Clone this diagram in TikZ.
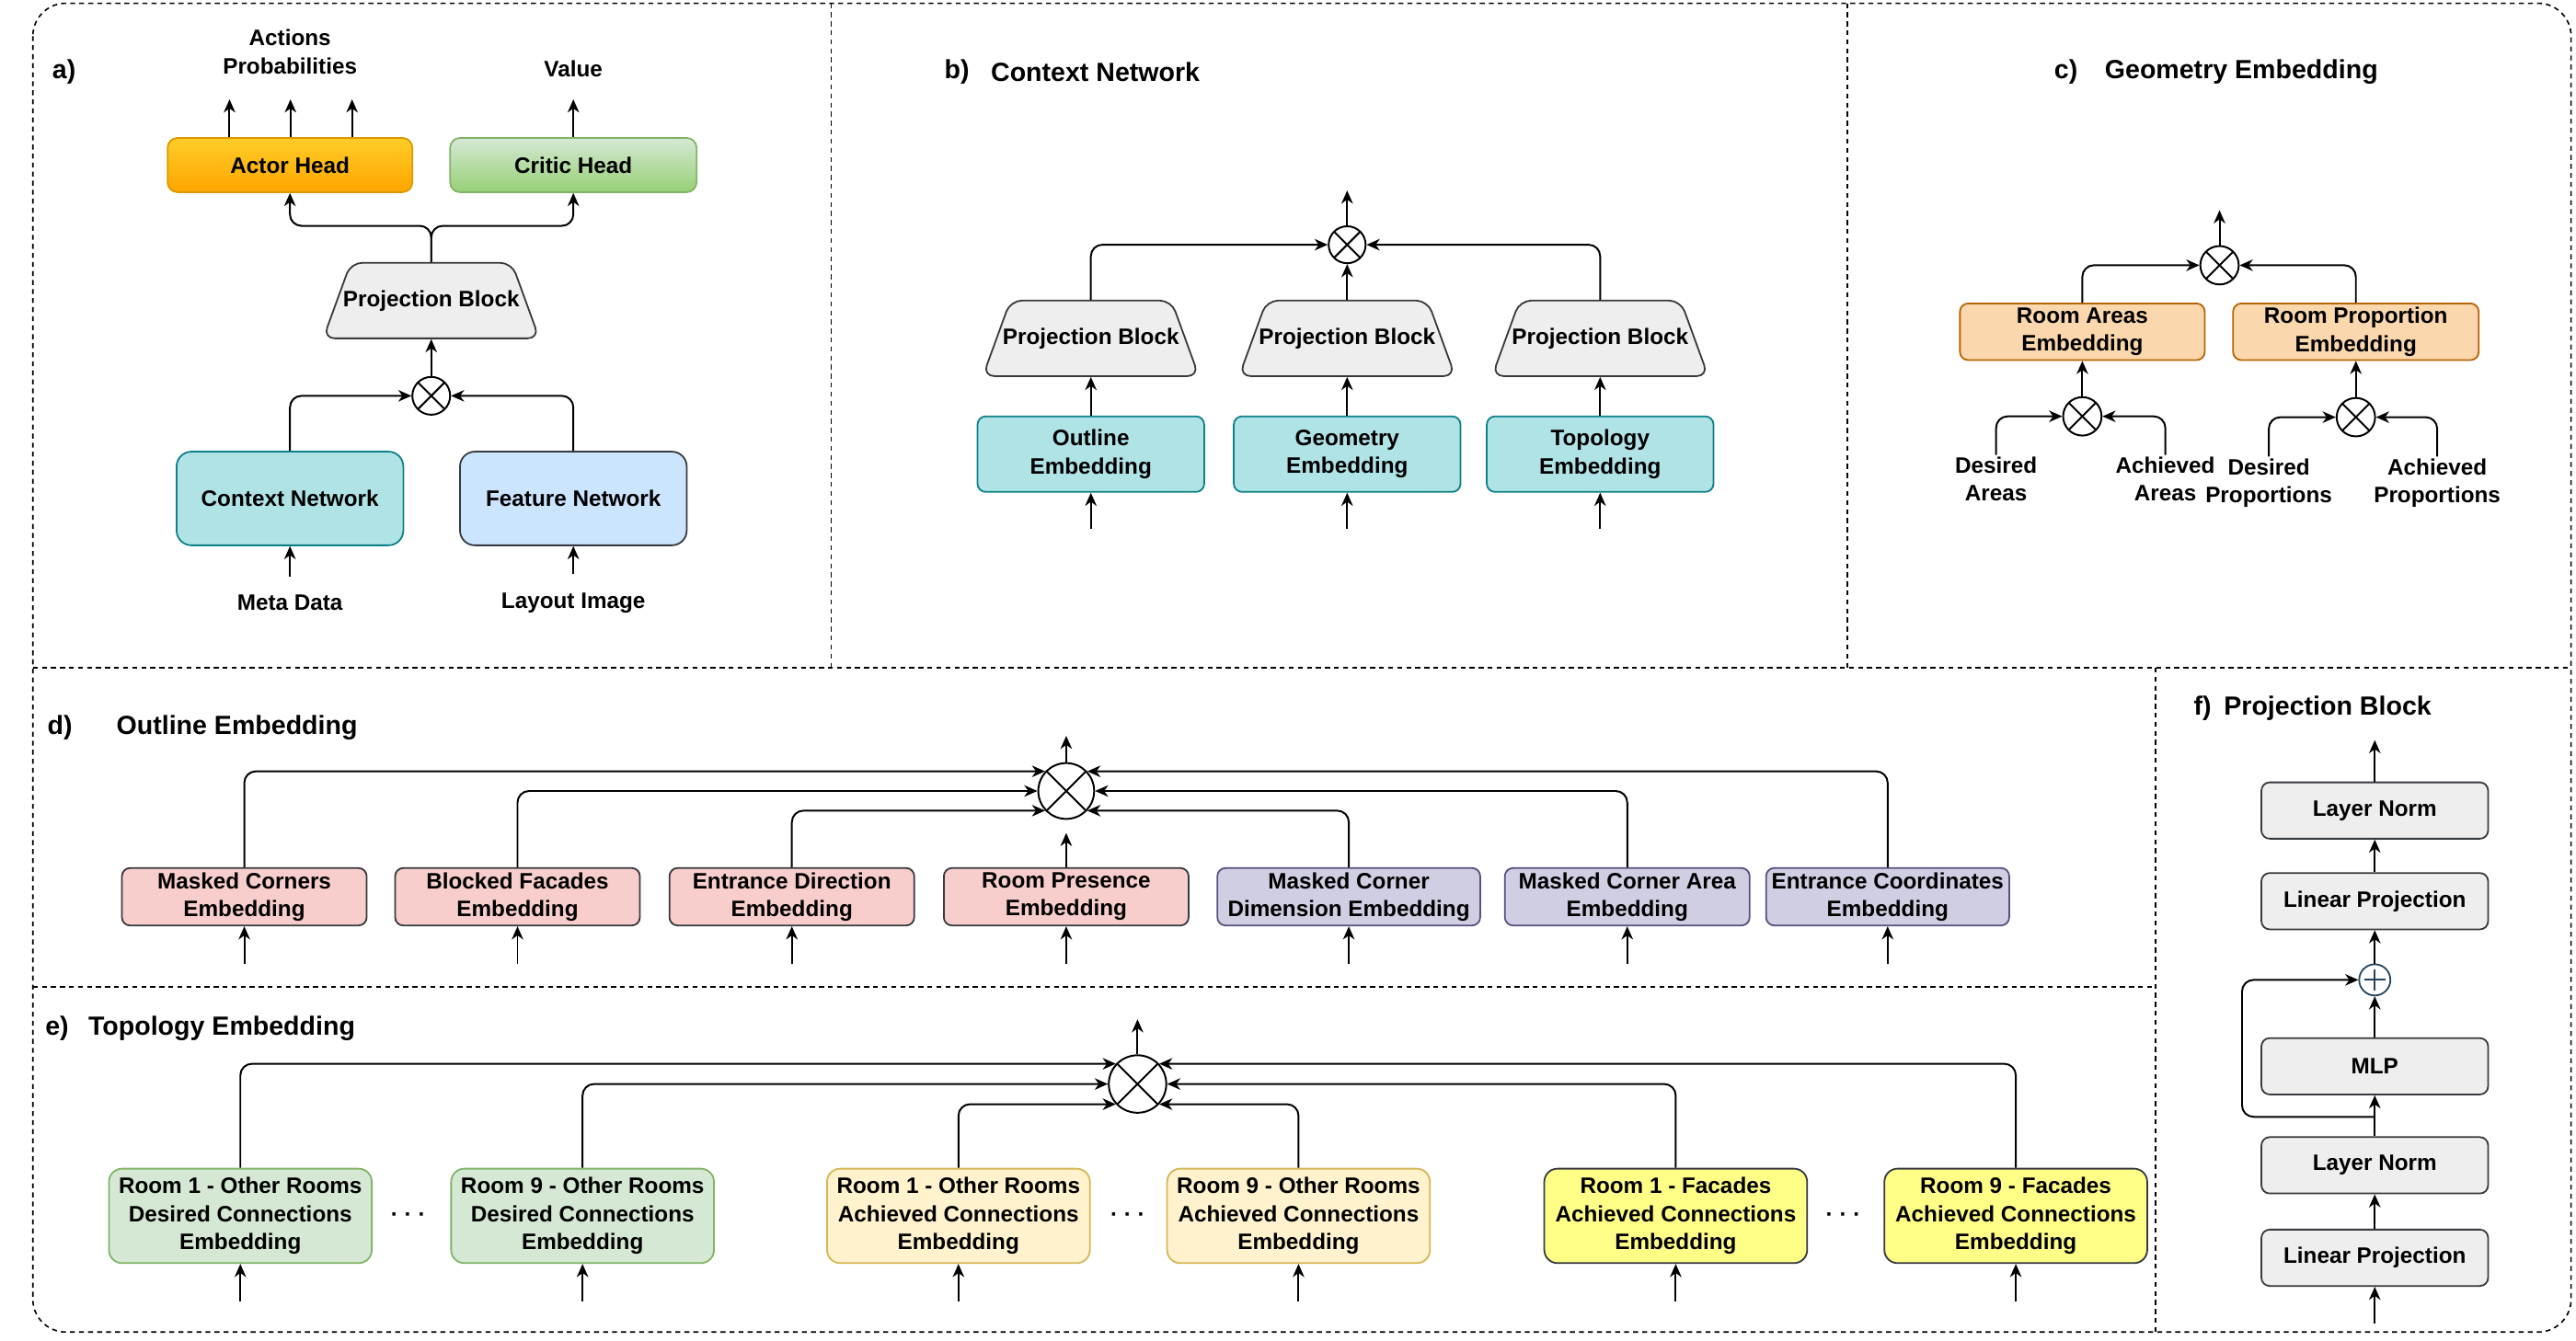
\documentclass[tikz,border=0pt]{standalone}
\usepackage{fontspec}
\setmainfont{Liberation Sans}
\usetikzlibrary{arrows.meta, shapes.geometric, positioning, calc}
\definecolor{actTop}{HTML}{FFCD28}
\definecolor{actBot}{HTML}{FFA500}
\definecolor{actLine}{HTML}{D79B00}
\definecolor{criTop}{HTML}{D5E8D4}
\definecolor{criBot}{HTML}{97D077}
\definecolor{criLine}{HTML}{82B366}
\definecolor{ctxFill}{HTML}{B0E3E6}
\definecolor{ctxLine}{HTML}{0E8088}
\definecolor{featFill}{HTML}{CCE5FF}
\definecolor{darkLine}{HTML}{36393D}
\definecolor{greyFill}{HTML}{EEEEEE}
\definecolor{areaFill}{HTML}{FAD7AC}
\definecolor{areaLine}{HTML}{B46504}
\definecolor{pinkFill}{HTML}{F8CECC}
\definecolor{purpFill}{HTML}{D0CEE2}
\definecolor{purpLine}{HTML}{56517E}
\definecolor{greenFill}{HTML}{D5E8D4}
\definecolor{greenLine}{HTML}{82B366}
\definecolor{lyFill}{HTML}{FFF2CC}
\definecolor{lyLine}{HTML}{D6B656}
\definecolor{yFill}{HTML}{FFFF88}
\definecolor{sumLine}{HTML}{23445D}
\newcommand{\boxfont}{\bfseries\fontsize{13.6}{17}\selectfont}
\newcommand{\headfont}{\bfseries\fontsize{16}{19}\selectfont}
\newcommand{\projtext}{\parbox[c][46pt][c]{98pt}{\centering\makebox[0pt]{Projection Block}}}

\begin{document}
\begin{tikzpicture}[x=1pt, y=-1pt,
    blk/.style={draw=#1, line width=1pt, rounded corners=5pt, align=center,
                font=\boxfont, inner sep=0pt},
    proj/.style={trapezium, trapezium angle=70, draw=darkLine, fill=greyFill,
                 line width=1pt, rounded corners=7pt, inner sep=0pt, font=\boxfont},
    mult/.style={circle, draw, line width=1.1pt, fill=white, minimum size=#1, inner sep=0pt,
                 path picture={\draw[line width=1.1pt]
                   (path picture bounding box.south west) -- (path picture bounding box.north east)
                   (path picture bounding box.north west) -- (path picture bounding box.south east);}},
    plus/.style={circle, draw=sumLine, line width=1pt, fill=white, minimum size=19pt, inner sep=0pt,
                 path picture={\draw[sumLine, line width=1pt]
                   ([xshift=3pt]path picture bounding box.west) -- ([xshift=-3pt]path picture bounding box.east)
                   ([yshift=3pt]path picture bounding box.south) -- ([yshift=-3pt]path picture bounding box.north);}},
    arr/.style={-{Stealth[length=8pt, width=7pt, inset=2.5pt]}, line width=1.1pt, rounded corners=7pt},
    frame/.style={dash pattern=on 3pt off 2.5pt, line width=0.9pt},
    ttl/.style={font=\headfont, inner sep=0pt},
    inlbl/.style={font=\boxfont, align=center, inner sep=1pt}
  ]
    \useasboundingbox (0,0) rectangle (1568,816);

    % Panel frames
    \draw[frame, rounded corners=20pt] (20,2) rectangle (1565,811);
    \draw[frame] (506,2) -- (506,406.5);
    \draw[frame] (1124.5,2) -- (1124.5,406.5);
    \draw[frame] (20,406.5) -- (1565,406.5);
    \draw[frame] (1312,406.5) -- (1312,811);
    \draw[frame] (20,601) -- (1312,601);

    % a) actor-critic
    \node[ttl] (labA) at (39,44) {a)};
    \node[blk=actLine, top color=actTop, bottom color=actBot, rounded corners=6pt,
          minimum width=149pt, minimum height=33pt] (actor) at (176.5,100.5) {Actor Head};
    \node[blk=criLine, top color=criTop, bottom color=criBot, rounded corners=6pt,
          minimum width=150pt, minimum height=33pt] (critic) at (349,100.5) {Critic Head};
    \node[proj] (pbA) at (262.5,183) {\projtext};
    \node[mult=23pt] (mulA) at (262.5,241) {};
    \node[blk=ctxLine, fill=ctxFill, rounded corners=9pt, minimum width=138pt,
          minimum height=57pt] (ctxNet) at (176.5,303.5) {Context Network};
    \node[blk=darkLine, fill=featFill, rounded corners=9pt, minimum width=138pt,
          minimum height=57pt] (featNet) at (349,303.5) {Feature Network};
    \node[inlbl] (meta) at (176.5,367) {Meta Data};
    \node[inlbl] (layout) at (349,367) {Layout Image};
    \node[inlbl] (probs) at (176.5,31.5) {Actions\\Probabilities};
    \node[inlbl] (value) at (349,42) {Value};
    \coordinate (splitA) at (262.5,137.5);
    \coordinate (outV) at (349,60.5);
    \foreach \x/\n in {139.7/1, 176.8/2, 214.3/3}
      \coordinate (outA\n) at (\x,60.5);

    \foreach \n in {1,2,3}
      \draw[arr] (actor.north -| outA\n) -- (outA\n);
    \draw[arr] (critic.north) -- (outV);
    \draw[arr] (pbA.north) -- (splitA) -| (actor.south);
    \draw[arr] (pbA.north) -- (splitA) -| (critic.south);
    \draw[arr] (mulA.north) -- (pbA.south);
    \draw[arr] (ctxNet.north) |- (mulA.west);
    \draw[arr] (featNet.north) |- (mulA.east);
    \draw[arr, shorten <=10pt] (meta.north) -- (ctxNet.south);
    \draw[arr, shorten <=10pt] (layout.north) -- (featNet.south);

    % b) context network
    \node[ttl] (labB) at (582.5,44) {b)};
    \node[ttl, anchor=west] (ttlB) at (603,44) {Context Network};
    \node[mult=22.5pt] (mulB) at (820,149) {};
    \coordinate (outB) at (820,116);
    \foreach \n/\x/\txt in {O/664/Outline, G/820/Geometry, T/974/Topology} {
      \node[proj] (pb\n) at (\x,206) {\projtext};
      \node[blk=ctxLine, fill=ctxFill, minimum width=138pt, minimum height=46pt]
        (emb\n) at (\x,276.5) {\txt\\Embedding};
      \coordinate (in\n) at (\x,322);
      \draw[arr] (in\n) -- (emb\n.south);
      \draw[arr] (emb\n.north) -- (pb\n.south);
    }
    \draw[arr] (mulB.north) -- (outB);
    \draw[arr] (pbO.north) |- (mulB.west);
    \draw[arr] (pbG.north) -- (mulB.south);
    \draw[arr] (pbT.north) |- (mulB.east);

    % c) geometry embedding
    \node[ttl] (labC) at (1257.5,44) {c)};
    \node[ttl, anchor=west] (ttlC) at (1281,44) {Geometry Embedding};
    \node[mult=23.4pt] (mulC) at (1351,161.5) {};
    \coordinate (outC) at (1351,128);
    \node[blk=areaLine, fill=areaFill, minimum width=149pt, minimum height=34.5pt]
      (areaEmb) at (1267.5,202) {Room Areas\\Embedding};
    \node[blk=areaLine, fill=areaFill, minimum width=149.5pt, minimum height=34.5pt]
      (propEmb) at (1434,202) {Room Proportion\\Embedding};
    \node[mult=23.4pt] (mulArea) at (1267.5,253.5) {};
    \node[mult=23.4pt] (mulProp) at (1434,254) {};
    \node[inlbl, anchor=north] (desA) at (1215,277) {Desired\\Areas};
    \node[inlbl, anchor=north] (achA) at (1318,277) {Achieved\\Areas};
    \node[inlbl, anchor=north] (desP) at (1381,278) {Desired\\Proportions};
    \node[inlbl, anchor=north] (achP) at (1483.5,278) {Achieved\\Proportions};

    \draw[arr] (desA.north) |- (mulArea.west);
    \draw[arr] (achA.north) |- (mulArea.east);
    \draw[arr] (desP.north) |- (mulProp.west);
    \draw[arr] (achP.north) |- (mulProp.east);
    \draw[arr] (mulArea.north) -- (areaEmb.south);
    \draw[arr] (mulProp.north) -- (propEmb.south);
    \draw[arr] (areaEmb.north) |- (mulC.west);
    \draw[arr] (propEmb.north) |- (mulC.east);
    \draw[arr] (mulC.north) -- (outC);

    % d) outline embedding
    \node[ttl] (labD) at (36.5,443) {d)};
    \node[ttl, anchor=west] (ttlD) at (70.7,443) {Outline Embedding};
    \node[mult=34pt] (mulD) at (649,481.6) {};
    \coordinate (outD) at (649,448);
    \foreach \n/\x/\bw/\fc/\lc/\txt in {
        mcor/148.7/149/pinkFill/darkLine/{Masked Corners\\Embedding},
        bfac/315/149/pinkFill/darkLine/{Blocked Facades\\Embedding},
        edir/482/149/pinkFill/darkLine/{Entrance Direction\\Embedding},
        rpre/649/149/pinkFill/darkLine/{Room Presence\\Embedding},
        mdim/821/160/purpFill/purpLine/{Masked Corner\\Dimension Embedding},
        marea/990.5/149/purpFill/purpLine/{Masked Corner Area\\Embedding},
        ecoor/1149/148/purpFill/purpLine/{Entrance Coordinates\\Embedding}} {
      \node[blk=\lc, fill=\fc, minimum width=\bw pt, minimum height=35pt] (\n) at (\x,546) {\txt};
      \coordinate (in\n) at (\x,587);
      \draw[arr] (in\n) -- (\n.south);
    }
    \draw[arr] (mcor.north) |- (mulD.137);
    \draw[arr] (bfac.north) |- (mulD.west);
    \draw[arr] (edir.north) |- (mulD.223);
    \draw[arr, shorten >=8pt] (rpre.north) -- (mulD.south);
    \draw[arr] (mdim.north) |- (mulD.317);
    \draw[arr] (marea.north) |- (mulD.east);
    \draw[arr] (ecoor.north) |- (mulD.43);
    \draw[arr] (mulD.north) -- (outD);

    % e) topology embedding
    \node[ttl] (labE) at (34.7,626) {e)};
    \node[ttl, anchor=west] (ttlE) at (53.6,626) {Topology Embedding};
    \node[mult=35pt] (mulE) at (692.4,660) {};
    \coordinate (outE) at (692.4,620.6);
    \foreach \n/\x/\fc/\lc/\txt in {
        dr1/146.3/greenFill/greenLine/{Room 1 - Other Rooms\\Desired Connections\\Embedding},
        dr9/354.6/greenFill/greenLine/{Room 9 - Other Rooms\\Desired Connections\\Embedding},
        ar1/583.4/lyFill/lyLine/{Room 1 - Other Rooms\\Achieved Connections\\Embedding},
        ar9/790.4/lyFill/lyLine/{Room 9 - Other Rooms\\Achieved Connections\\Embedding},
        fc1/1020/yFill/darkLine/{Room 1 - Facades\\Achieved Connections\\Embedding},
        fc9/1227/yFill/darkLine/{Room 9 - Facades\\Achieved Connections\\Embedding}} {
      \node[blk=\lc, fill=\fc, rounded corners=8pt, minimum width=160pt, minimum height=57.5pt]
        (\n) at (\x,740.3) {\txt};
      \coordinate (in\n) at (\x,792.5);
      \draw[arr] (in\n) -- (\n.south);
    }
    \node[font=\boxfont] (dotsA) at (248.5,741) {· · ·};
    \node[font=\boxfont] (dotsB) at (686.5,741) {· · ·};
    \node[font=\boxfont] (dotsC) at (1122,741) {· · ·};
    \draw[arr] (dr1.north) |- (mulE.137);
    \draw[arr] (dr9.north) |- (mulE.west);
    \draw[arr] (ar1.north) |- (mulE.223);
    \draw[arr] (ar9.north) |- (mulE.317);
    \draw[arr] (fc1.north) |- (mulE.east);
    \draw[arr] (fc9.north) |- (mulE.43);
    \draw[arr] (mulE.north) -- (outE);

    % f) projection block
    \node[ttl] (labF) at (1340.7,431) {f)};
    \node[ttl, anchor=west] (ttlF) at (1353.5,431) {Projection Block};
    \foreach \n/\y/\txt in {lnTop/493.5/Layer Norm, lpTop/548.7/Linear Projection,
                            mlp/649.2/MLP, lnBot/709.5/Layer Norm, lpBot/765.8/Linear Projection}
      \node[blk=darkLine, fill=greyFill, minimum width=138pt, minimum height=34.3pt]
        (\n) at (1445.5,\y) {\txt};
    \node[plus] (sumF) at (1445.5,596.6) {};
    \coordinate (outF) at (1445.5,450.6);
    \coordinate (inF) at (1445.5,805.8);
    \coordinate (resF) at (1445.5,680);
    \coordinate (resL) at (1364.7,680);
    \foreach \a/\b in {inF/lpBot.south, lpBot.north/lnBot.south, lnBot.north/mlp.south,
                       mlp.north/sumF.south, sumF.north/lpTop.south, lpTop.north/lnTop.south,
                       lnTop.north/outF}
      \draw[arr] (\a) -- (\b);
    \draw[arr] (resF) -- (resL) |- (sumF.west);

  \end{tikzpicture}
\end{document}
